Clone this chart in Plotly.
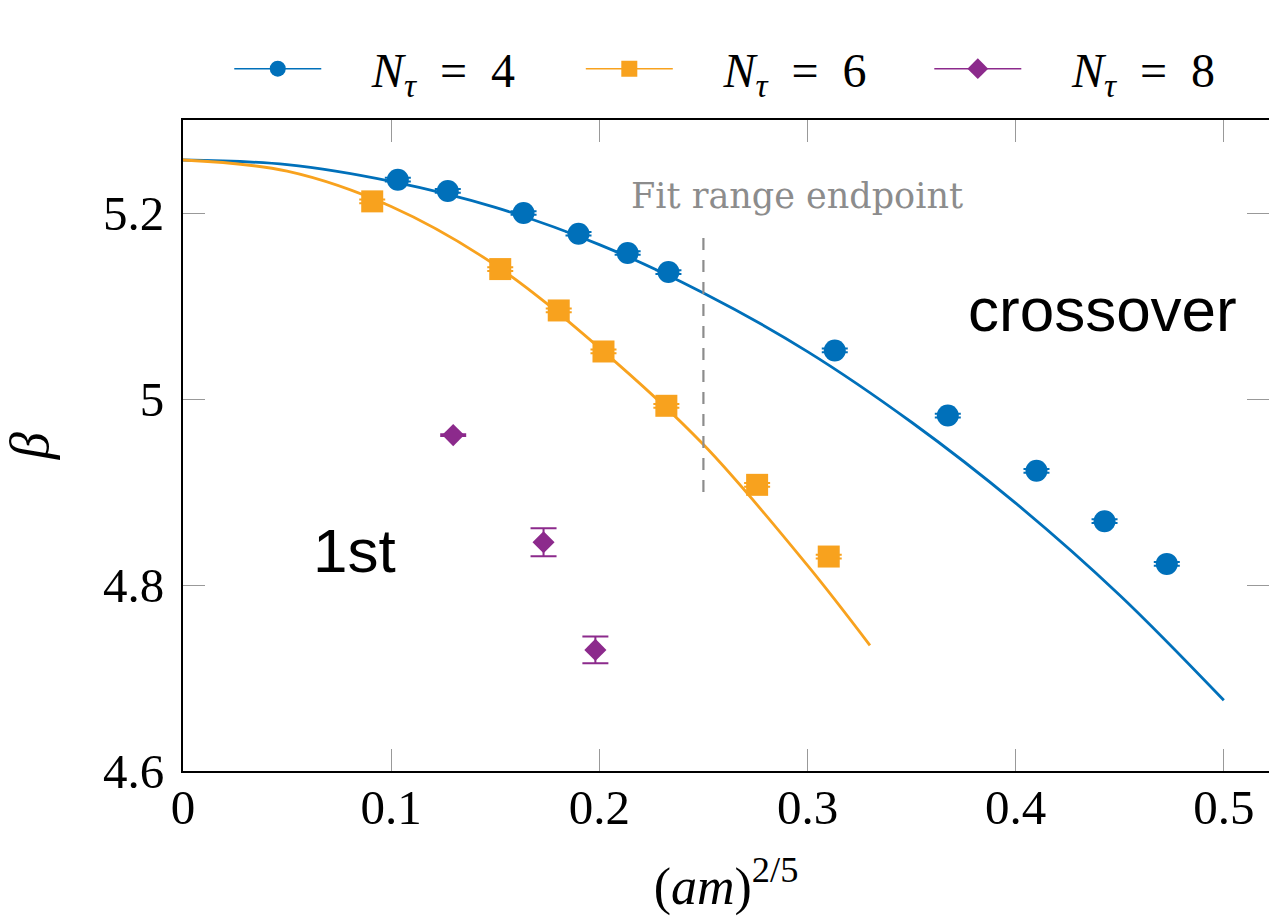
import plotly.graph_objects as go

# ---- data -------------------------------------------------------------
# N_tau = 4 critical couplings
nt4_x = [0.1032, 0.1272, 0.1636, 0.1900, 0.2136, 0.2332, 0.3131, 0.3674, 0.4100, 0.4427, 0.4726]
nt4_y = [5.2358, 5.2237, 5.2000, 5.1777, 5.1570, 5.1365, 5.0522, 4.9822, 4.9228, 4.8686, 4.8227]
nt4_err = [0.002] * 11

# N_tau = 6 critical couplings
nt6_x = [0.0909, 0.1524, 0.1805, 0.2020, 0.2322, 0.2758, 0.3102]
nt6_y = [5.2125, 5.1397, 5.0952, 5.0511, 4.9927, 4.9077, 4.8306]
nt6_err = [0.002] * 7

# N_tau = 8 critical couplings
nt8_x = [0.1298, 0.1732, 0.1981]
nt8_y = [4.9612, 4.8460, 4.7302]
nt8_err = [0.001, 0.0150, 0.0143]

# fit curves
fit4_x = [0.0, 0.05, 0.10, 0.15, 0.20, 0.25, 0.30, 0.35, 0.40, 0.45, 0.50]
fit4_y = [5.257, 5.252, 5.234, 5.206, 5.166, 5.114, 5.051, 4.975, 4.888, 4.789, 4.676]
fit6_x = [0.0, 0.05, 0.10, 0.15, 0.20, 0.25, 0.30, 0.33]
fit6_y = [5.257, 5.245, 5.207, 5.144, 5.055, 4.951, 4.821, 4.735]

# end of the fit window
fit_end_x = 0.25
fit_end_y = [4.90, 5.182]

x_ticks = [0, 0.1, 0.2, 0.3, 0.4, 0.5]
y_ticks = [4.6, 4.8, 5.0, 5.2]

# ---- styles -----------------------------------------------------------
BLUE = "#0070BA"
ORANGE = "#F8A21E"
PURPLE = "#8C2A8C"
SERIF = "Liberation Serif"
SANS = "Liberation Sans"
NB = "\u00a0"

fig = go.Figure()

fig.add_trace(go.Scatter(x=fit4_x, y=fit4_y, mode="lines", line=dict(color=BLUE, width=2.8, shape="spline"),
                         showlegend=False, hoverinfo="skip"))
fig.add_trace(go.Scatter(x=fit6_x, y=fit6_y, mode="lines", line=dict(color=ORANGE, width=2.8, shape="spline"),
                         showlegend=False, hoverinfo="skip"))
fig.add_trace(go.Scatter(x=[fit_end_x, fit_end_x], y=fit_end_y, mode="lines",
                         line=dict(color="#8c8c8c", width=2.2, dash="12px,10px"),
                         showlegend=False, hoverinfo="skip"))

def points(x, y, err, color, symbol, size):
    return go.Scatter(
        x=x, y=y, mode="markers",
        marker=dict(color=color, symbol=symbol, size=size, line=dict(width=0)),
        error_y=dict(type="data", array=err, color=color, thickness=2, width=13),
        showlegend=False,
    )

fig.add_trace(points(nt4_x, nt4_y, nt4_err, BLUE, "circle", 22))
fig.add_trace(points(nt6_x, nt6_y, nt6_err, ORANGE, "square", 22))
fig.add_trace(points(nt8_x, nt8_y, nt8_err, PURPLE, "diamond", 17))

# legend entries, one legend box per series so the row does not wrap
def label(n):
    return f"{NB*3}\u2009<i>N</i><sub><i>τ</i></sub>{NB} = {NB}{n}"

legend_entries = [
    (4, BLUE, "circle", 22, "legend", 0.0426),
    (6, ORANGE, "square", 22, "legend2", 0.3663),
    (8, PURPLE, "diamond", 17, "legend3", 0.6872),
]
legend_layout = {}
for n, color, symbol, size, lg, lx in legend_entries:
    fig.add_trace(go.Scatter(x=[None], y=[None], mode="lines+markers", name=label(n), legend=lg,
                             line=dict(color=color, width=1.5),
                             marker=dict(color=color, symbol=symbol, size=size)))
    legend_layout[lg] = dict(orientation="h", x=lx, xanchor="left", y=1.02, yanchor="bottom",
                             font=dict(family=SERIF, size=48, color="black"), itemwidth=87,
                             bgcolor="rgba(0,0,0,0)")

# y ticks on the right-hand frame edge
fig.add_trace(go.Scatter(x=[None], y=[None], yaxis="y2", showlegend=False, hoverinfo="skip"))

fig.add_annotation(x=0.295, y=5.2186, text="Fit range endpoint", showarrow=False,
                   font=dict(family="DejaVu Serif", size=35, color="#8c8c8c"))
fig.add_annotation(x=0.4415, y=5.096, text="crossover", showarrow=False,
                   font=dict(family=SANS, size=62, color="black"))
fig.add_annotation(x=0.0824, y=4.8367, text="1st", showarrow=False,
                   font=dict(family=SANS, size=62, color="black"))

axis_common = dict(
    ticks="inside", ticklen=22, tickwidth=1, tickcolor="#999999",
    showgrid=False, zeroline=False, showline=True, linecolor="black", linewidth=2,
    tickfont=dict(family=SERIF, size=49, color="black"),
)

fig.update_layout(
    width=1269, height=916,
    margin=dict(l=183, r=0, t=120, b=145),
    plot_bgcolor="white", paper_bgcolor="white",
    xaxis=dict(range=[0, 0.5217], tickvals=x_ticks, ticktext=[f"{v:g}" for v in x_ticks], mirror="ticks",
               ticklabelstandoff=-8,
               title=dict(text="(<i>am</i>)<sup>2/5</sup>", font=dict(family=SERIF, size=52, color="black"),
                          standoff=36),
               **axis_common),
    yaxis=dict(range=[4.6, 5.3], tickvals=y_ticks, ticktext=[f"{v:g}" for v in y_ticks],
               ticklabelstandoff=7,
               title=dict(text="<i>β</i>", font=dict(family=SERIF, size=54, color="black"), standoff=38),
               **axis_common),
    yaxis2=dict(range=[4.6, 5.3], tickvals=y_ticks, overlaying="y", side="right", ticks="inside",
                ticklen=22, tickwidth=1, tickcolor="#999999", showticklabels=False, showgrid=False,
                zeroline=False, showline=False),
    **legend_layout,
)

fig.write_html("out.html")
